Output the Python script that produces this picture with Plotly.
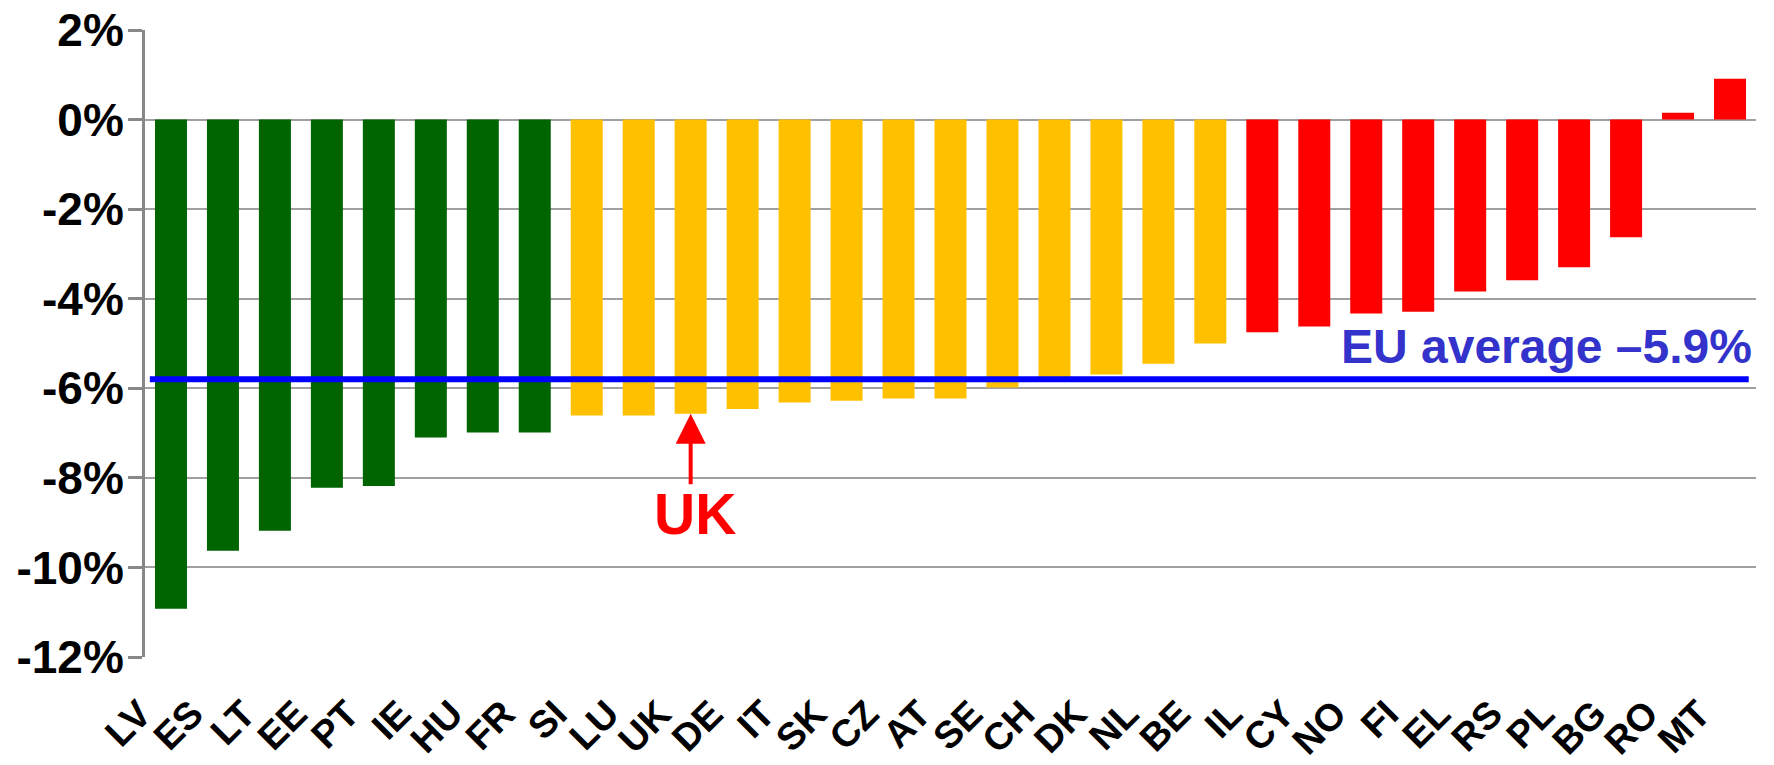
import plotly.graph_objects as go

countries = ["LV", "ES", "LT", "EE", "PT", "IE", "HU", "FR",
             "SI", "LU", "UK", "DE", "IT", "SK", "CZ", "AT", "SE", "CH", "DK", "NL", "BE",
             "IL", "CY", "NO", "FI", "EL", "RS", "PL", "BG", "RO", "MT"]
values = [-10.92, -9.63, -9.18, -8.22, -8.18, -7.10, -6.99, -6.99,
          -6.61, -6.61, -6.57, -6.46, -6.32, -6.28, -6.23, -6.23, -5.98, -5.77, -5.69, -5.45, -5.00,
          -4.75, -4.62, -4.33, -4.29, -3.84, -3.59, -3.30, -2.63, 0.15, 0.91]
groups = ["green"] * 8 + ["amber"] * 13 + ["red"] * 10
group_colors = {"green": "#006400", "amber": "#FFC000", "red": "#FF0000"}

eu_average_line = -5.8
eu_label = "EU average \u20135.9%"
highlight = "UK"

ytick_vals = [2, 0, -2, -4, -6, -8, -10, -12]
ytick_text = ["2%", "0%", "-2%", "-4%", "-6%", "-8%", "-10%", "-12%"]

FONT = "Liberation Sans, Arial, Helvetica, sans-serif"

fig = go.Figure()
fig.add_trace(go.Bar(
    x=countries, y=values,
    marker=dict(color=[group_colors[g] for g in groups], line=dict(width=0)),
    hoverinfo="x+y",
))

# EU average line
fig.add_shape(type="line", xref="paper", yref="y",
              x0=0.003, x1=0.9955, y0=eu_average_line, y1=eu_average_line,
              line=dict(color="#0000FF", width=6), layer="above")

fig.add_annotation(xref="paper", yref="y", x=0.9985, y=eu_average_line,
                   text=eu_label, showarrow=False, xanchor="right", yanchor="bottom",
                   yshift=4,
                   font=dict(family=FONT, size=48, color="#3333CC", weight="bold"))

# UK arrow and label
uk_val = values[countries.index(highlight)]
fig.add_annotation(x=highlight, y=uk_val, xref="x", yref="y", text="",
                   showarrow=True, ax=0, ay=72, arrowhead=2, arrowsize=1.5,
                   arrowwidth=4, arrowcolor="#FF0000", standoff=0)
fig.add_annotation(x=highlight, y=-8.8, xref="x", yref="y", text=highlight,
                   showarrow=False, xanchor="center", yanchor="middle", xshift=4,
                   font=dict(family=FONT, size=57, color="#FF0000", weight="bold"))

fig.update_layout(
    width=1774, height=765,
    margin=dict(l=145, r=18, t=30, b=108, autoexpand=False),
    paper_bgcolor="white", plot_bgcolor="white",
    bargap=0.384,
    showlegend=False,
    font=dict(family=FONT, color="black"),
)
fig.update_yaxes(
    range=[-12, 2], tickvals=ytick_vals, ticktext=ytick_text,
    automargin=False,
    showgrid=True, gridcolor="#A0A0A0", gridwidth=1.5,
    zeroline=False,
    showline=True, linecolor="#888888", linewidth=3,
    ticks="outside", ticklen=14, tickwidth=3, tickcolor="#888888",
    ticklabelstandoff=-5,
    tickfont=dict(family=FONT, size=46, color="black", weight="bold"),
)
fig.update_xaxes(
    automargin=False,
    tickangle=-45, ticks="", showline=False, showgrid=False,
    ticklabelstandoff=26, ticklabelshift=-31,
    tickfont=dict(family=FONT, size=38, color="black", weight="bold"),
)

fig.write_html(
    "out.html",
    config={"displayModeBar": False},
    post_script="document.body.style.margin='0';document.body.style.overflow='hidden';",
)
